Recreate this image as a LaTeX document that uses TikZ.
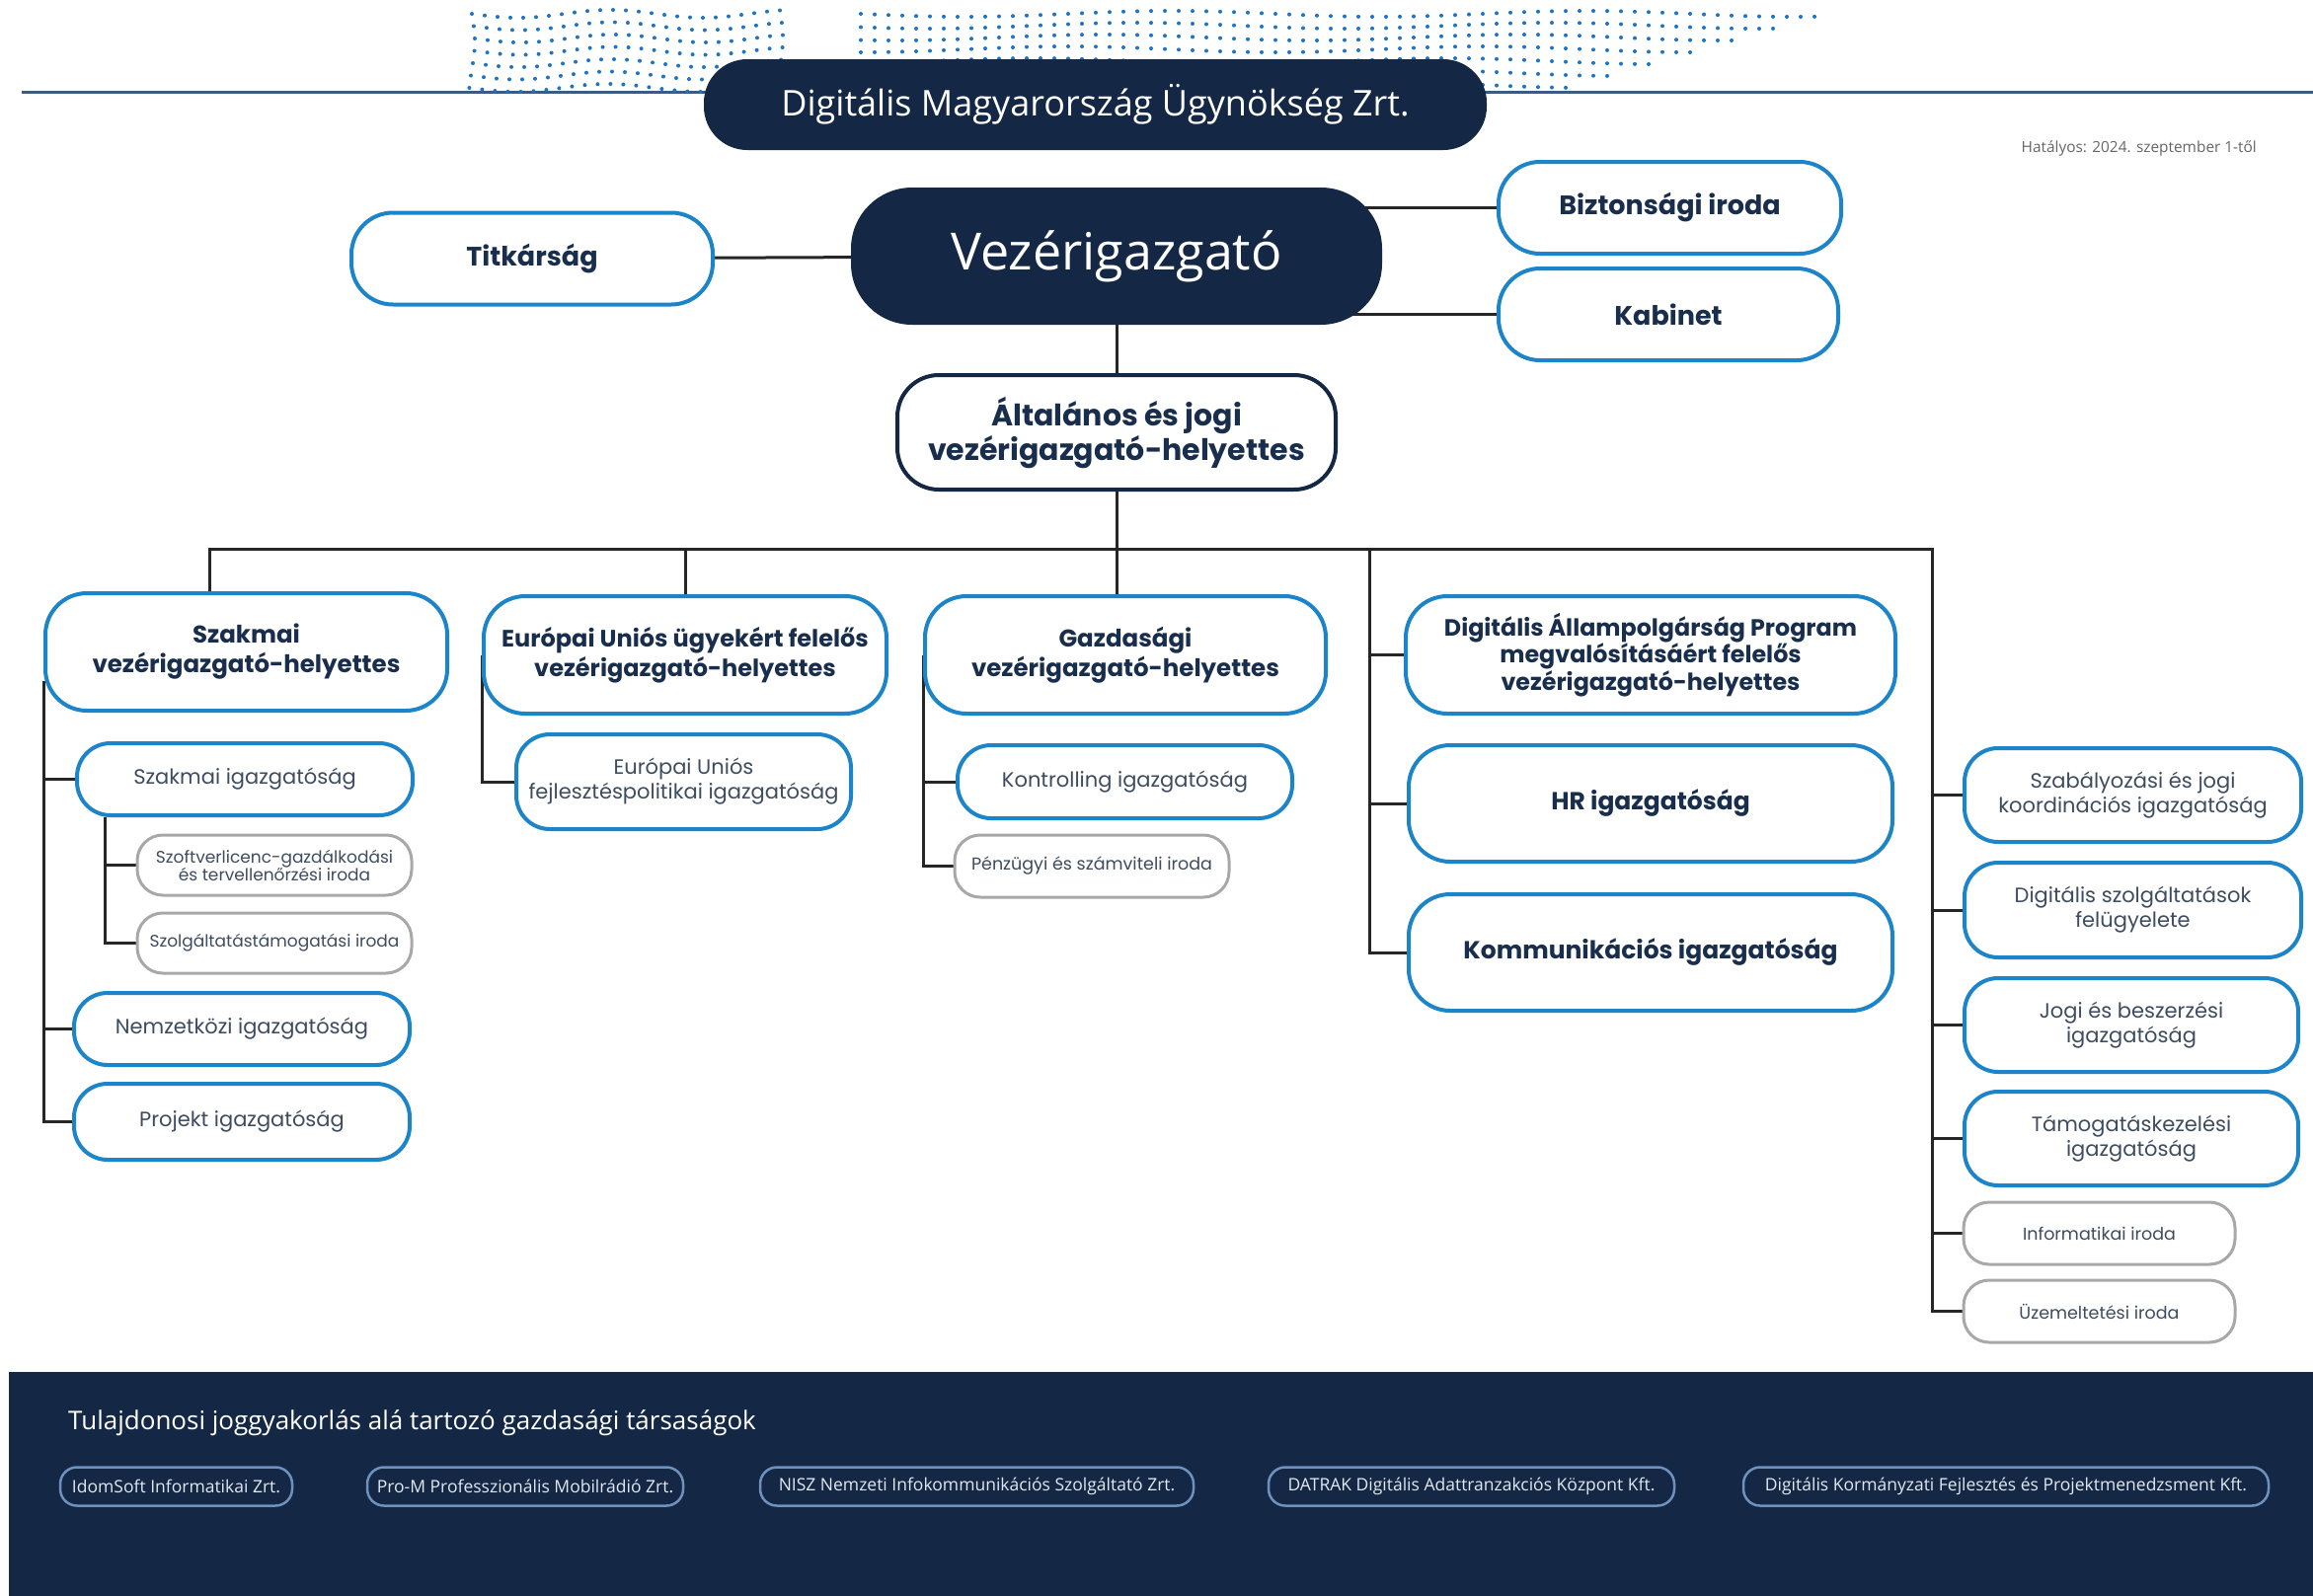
\documentclass[tikz,border=0pt]{standalone}
\usepackage{fontspec}
\setmainfont{Poppins}
\newfontfamily\opensans{Open Sans}
\usetikzlibrary{backgrounds}
\definecolor{dmnavy}{RGB}{20,39,68}
\definecolor{dmblue}{RGB}{28,132,200}
\definecolor{dmgray}{RGB}{168,168,168}
\definecolor{dmtext}{RGB}{24,46,76}
\definecolor{dmsoft}{RGB}{62,76,96}
\definecolor{dmdot}{RGB}{30,115,195}
\definecolor{dmpill}{RGB}{110,145,190}
\definecolor{dmline}{RGB}{60,90,130}

\begin{document}
\begin{tikzpicture}[x=1pt,y=-1pt,
  every node/.style={inner sep=0pt, align=center},
  wire/.style={draw=black!85, line width=3pt},
  headbox/.style={fill=dmnavy, text=white},
  unitbox/.style={draw=dmblue, line width=4pt, fill=white, rounded corners=42pt, text=dmtext, font=\fontsize{24.5}{30}\selectfont\bfseries},
  deptbox/.style={draw=dmblue, line width=4pt, fill=white, rounded corners=34pt, text=dmsoft, font=\fontsize{21}{25}\selectfont},
  officebox/.style={draw=dmgray, line width=3pt, fill=white, rounded corners=26pt, text=dmsoft, font=\fontsize{17.5}{18}\selectfont},
  firmbox/.style={draw=dmpill, line width=2.5pt, rounded corners=17pt, minimum height=39pt, text=white!80!dmpill, font=\opensans\fontsize{17.5}{20}\selectfont},
]
\useasboundingbox (0,0) rectangle (2343,1617);

% Drawing boxes: top
\node[headbox, rounded corners=44pt, minimum width=793pt, minimum height=92pt, font=\opensans\fontsize{36}{41}\selectfont] (cim) at (1109.5,106) {Digitális Magyarország Ügynökség Zrt.};
\node[anchor=east, text=black!60, font=\opensans\fontsize{15.4}{17}\selectfont] (hat) at (2286,150) {Hatályos: 2024. szeptember 1-től};
\node[headbox, rounded corners=62pt, minimum width=538pt, minimum height=139pt, font=\opensans\fontsize{52}{58}\selectfont] (vez) at (1131,259.5) {Vezérigazgató};
\node[unitbox, font=\fontsize{27}{32}\selectfont\bfseries, minimum width=366pt, minimum height=93pt] (titk) at (539,262) {Titkárság};
\node[unitbox, font=\fontsize{27}{32}\selectfont\bfseries, minimum width=347pt, minimum height=93pt] (bizt) at (1691.5,210.5) {Biztonsági iroda};
\node[unitbox, font=\fontsize{27}{32}\selectfont\bfseries, minimum width=344pt, minimum height=93pt] (kab) at (1690,318.5) {Kabinet};
\node[unitbox, draw=dmnavy, font=\fontsize{30}{35}\selectfont\bfseries, minimum width=444pt, minimum height=116pt] (alt) at (1131,438) {Általános és jogi\\vezérigazgató-helyettes};

% Deputies
\node[unitbox, minimum width=407pt, minimum height=119pt] (szvh) at (249.5,660.5) {Szakmai\\vezérigazgató-helyettes};
\node[unitbox, font=\fontsize{24}{30}\selectfont\bfseries, minimum width=408pt, minimum height=119pt] (euvh) at (694,663.5) {Európai Uniós ügyekért felelős\\vezérigazgató-helyettes};
\node[unitbox, minimum width=406pt, minimum height=119pt] (gzvh) at (1140,663.5) {Gazdasági\\vezérigazgató-helyettes};
\node[unitbox, font=\fontsize{23.8}{25.5}\selectfont\bfseries, minimum width=496pt, minimum height=119pt] (dapvh) at (1672,663.5) {Digitális Állampolgárság Program\\megvalósításáért felelős\\vezérigazgató-helyettes};

% Szakmai column
\node[deptbox, minimum width=340pt, minimum height=73pt] (szig) at (248,789.5) {Szakmai igazgatóság};
\node[officebox, font=\fontsize{17}{18}\selectfont, minimum width=278pt, minimum height=61pt] (szoft) at (278,876.5) {Szoftverlicenc-gazdálkodási\\és tervellenőrzési iroda};
\node[officebox, font=\fontsize{17}{18}\selectfont, minimum width=278pt, minimum height=61pt] (szolg) at (278,955.5) {Szolgáltatástámogatási iroda};
\node[deptbox, minimum width=340pt, minimum height=73pt] (nemz) at (245,1042.5) {Nemzetközi igazgatóság};
\node[deptbox, minimum width=340pt, minimum height=77pt] (proj) at (245,1136.5) {Projekt igazgatóság};

% EU and Gazdasagi columns
\node[deptbox, minimum width=339pt, minimum height=96pt] (eufp) at (692.5,792) {Európai Uniós\\fejlesztéspolitikai igazgatóság};
\node[deptbox, minimum width=339pt, minimum height=74pt] (kontr) at (1139.5,792) {Kontrolling igazgatóság};
\node[officebox, minimum width=278pt, minimum height=63pt] (penz) at (1106,877.5) {Pénzügyi és számviteli iroda};

% DAP column
\node[unitbox, font=\fontsize{25}{31}\selectfont\bfseries, minimum width=490pt, minimum height=118pt] (hr) at (1672,814) {HR igazgatóság};
\node[unitbox, font=\fontsize{25}{31}\selectfont\bfseries, minimum width=490pt, minimum height=118pt] (komm) at (1672,965) {Kommunikációs igazgatóság};

% Right column
\node[deptbox, minimum width=341pt, minimum height=95pt] (szab) at (2160.5,805.5) {Szabályozási és jogi\\koordinációs igazgatóság};
\node[deptbox, minimum width=341pt, minimum height=96pt] (digsz) at (2160.5,922) {Digitális szolgáltatások\\felügyelete};
\node[deptbox, minimum width=338pt, minimum height=95pt] (jogi) at (2159,1038.5) {Jogi és beszerzési\\igazgatóság};
\node[deptbox, minimum width=338pt, minimum height=95pt] (tamog) at (2159,1153.5) {Támogatáskezelési\\igazgatóság};
\node[officebox, minimum width=275pt, minimum height=63pt] (infor) at (2126.5,1249.5) {Informatikai iroda};
\node[officebox, minimum width=275pt, minimum height=63pt] (uzem) at (2126.5,1328.5) {Üzemeltetési iroda};

% Bottom band
\node[anchor=west, text=white, font=\opensans\fontsize{26}{30}\selectfont] (tul) at (69,1442) {Tulajdonosi joggyakorlás alá tartozó gazdasági társaságok};
\node[firmbox, minimum width=235pt] (ids) at (178.5,1506) {IdomSoft Informatikai Zrt.};
\node[firmbox, minimum width=320pt] (prom) at (532,1506) {Pro-M Professzionális Mobilrádió Zrt.};
\node[firmbox, minimum width=439pt] (nisz) at (989.5,1506) {NISZ Nemzeti Infokommunikációs Szolgáltató Zrt.};
\node[firmbox, minimum width=411pt] (datrak) at (1490.5,1506) {DATRAK Digitális Adattranzakciós Központ Kft.};
\node[firmbox, minimum width=532pt] (dkfp) at (2032,1506) {Digitális Kormányzati Fejlesztés és Projektmenedzsment Kft.};

\begin{scope}[on background layer]
% Page, band, header line and dots
\fill[white] (0,0) rectangle (2343,1617);
\fill[dmnavy] (9,1390) rectangle (2343,1617);
\draw[dmline, line width=3pt] (22,93) -- (2343,93);
\foreach \i in {0,...,24}
  \foreach \j in {0,...,6}
    {\fill[dmdot] ({478+13*\i+3*sin(40*\j)},{14+12.5*\j+4*sin(25*\i)}) circle (2pt);}
\foreach \j in {0,...,6}
  \foreach \i in {0,...,70}
    {\ifnum\i<\numexpr70-3*\j\relax
      \fill[dmdot] ({872+14*\i},{14+12*\j+3*sin(12*\i+30*\j)}) circle (2pt);
    \fi}

% Drawing wires
\coordinate (busL) at (212,556);
\coordinate (busR) at (1957,556);
\coordinate (dapx) at (1387,556);
\coordinate (szx) at (44,690);
\coordinate (szsub) at (106,0);
\draw[wire] (titk) -- (vez);
\draw[wire] (bizt.west) -- (bizt.west -| vez.center);
\draw[wire] (kab.west) -- (kab.west -| vez.center);
\draw[wire] (vez) -- (alt);
\draw[wire] (alt.center) -- (alt.center |- gzvh.north);
\draw[wire] (busL |- szvh.north) -- (busL) -- (busR) -- (busR |- uzem.west) -- (uzem.west);
\draw[wire] (euvh.north |- busL) -- (euvh.north);
% Szakmai branch
\draw[wire] (szx) -- (szx |- proj.west) -- (proj.west);
\foreach \n in {szig,nemz}
  \draw[wire] (szx |- \n.west) -- (\n.west);
\draw[wire] (szsub |- szig.south) -- (szsub |- szolg.west) -- (szolg.west);
\draw[wire] (szsub |- szoft.west) -- (szoft.west);
% EU and Gazdasagi branches
\draw[wire] (euvh.west) -- (euvh.west |- eufp.west) -- (eufp.west);
\draw[wire] (gzvh.west) -- (gzvh.west |- penz.west) -- (penz.west);
\draw[wire] (gzvh.west |- kontr.west) -- (kontr.west);
% DAP branch
\draw[wire] (dapx) -- (dapx |- komm.west) -- (komm.west);
\foreach \n in {dapvh,hr}
  \draw[wire] (dapx |- \n.west) -- (\n.west);
% Right branch
\foreach \n in {szab,digsz,jogi,tamog,infor}
  \draw[wire] (busR |- \n.west) -- (\n.west);
\end{scope}
% Done with wires
\end{tikzpicture}
\end{document}
